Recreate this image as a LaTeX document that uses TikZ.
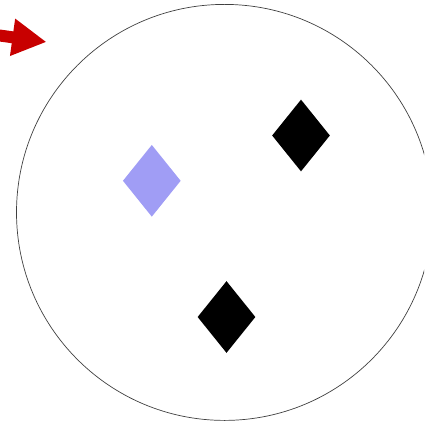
\documentclass[tikz,border=0pt]{standalone}
\usetikzlibrary{shapes.geometric,arrows.meta}
\definecolor{lilac}{RGB}{160,157,245}
\definecolor{arrowred}{RGB}{200,0,0}
\tikzset{gem/.style={diamond, minimum width=1.16cm, minimum height=1.44cm, inner sep=0pt, draw=none}}
\begin{document}
\begin{tikzpicture}[x=0.02cm, y=-0.02cm]
\useasboundingbox (0,0) rectangle (424,425);
\clip (0,0) rectangle (424,425);

\draw[line width=0.4pt, black!75] (224.5,212.4) circle (208);

\node[gem, fill=lilac](d1) at (151.8,180.8) {};
\node[gem, fill=black](d2) at (301,135.5) {};
%\node[gem, fill=black](d4) at (151.8,317) {};
\node[gem, fill=black](d3) at (226.5,317) {};

\coordinate (tail) at (-4,35);
\coordinate (tip) at (46.5,42);
\draw[line width=6.8pt, arrowred, -{Triangle[length=19.5pt, width=20pt]}] (tail) -- (tip);

\end{tikzpicture}
\end{document}
